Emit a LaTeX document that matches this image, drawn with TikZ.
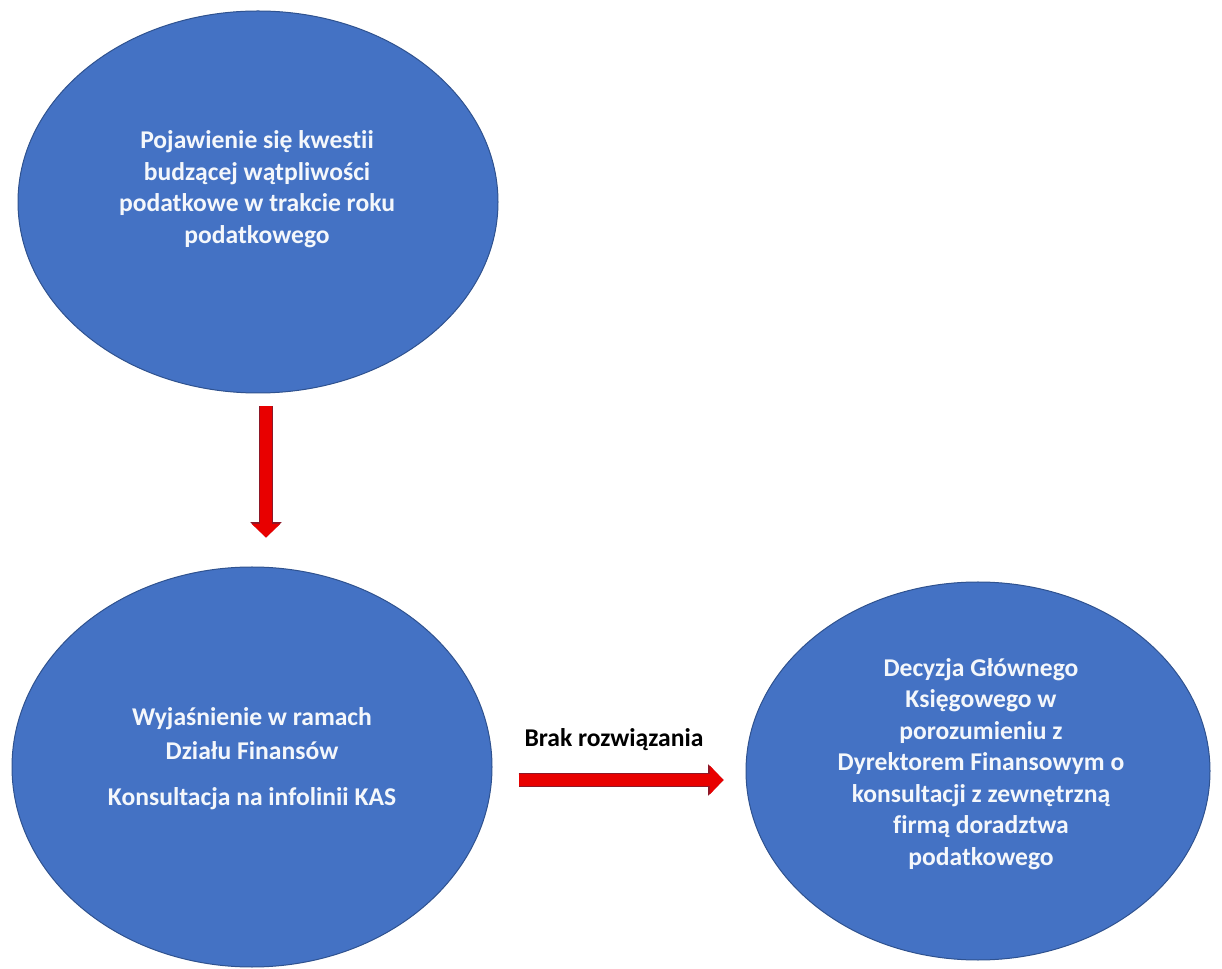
\documentclass[tikz,border=0pt]{standalone}
\usepackage{fontspec}
\setmainfont{Carlito}[Ligatures=NoCommon]
\usetikzlibrary{shapes.geometric,arrows.meta,calc}

\definecolor{ovalblue}{RGB}{68,114,196}
\definecolor{ovaledge}{RGB}{47,82,143}
\definecolor{arrowred}{RGB}{232,0,0}
\definecolor{arrowedge}{RGB}{140,24,40}

\tikzset{
  oval/.style={ellipse, draw=ovaledge, line width=0.75pt, fill=ovalblue, inner sep=0pt},
  ovaltext/.style={text=white!94!ovalblue, font=\bfseries\fontsize{19.2}{23.6}\selectfont, align=center},
  blockarrow/.style={draw=arrowred, line width=9.25pt, -{Triangle[width=21.5pt,length=10.25pt,line width=0pt 0]},
    preaction={draw=arrowedge, line width=11pt, -{Triangle[width=23.5pt,length=11.5pt,line width=0pt 0]}}}
}

\begin{document}
\begin{tikzpicture}[x=0.75pt,y=0.75pt,yscale=-1,xscale=1]
\useasboundingbox (0,0) rectangle (1222,969);

%Ellipses
\node [oval, minimum width=360pt, minimum height=286.5pt] (issue) at (258,202) {};
\node [oval, minimum width=360pt, minimum height=300pt] (explain) at (252,767) {};
\node [oval, minimum width=348pt, minimum height=283.5pt] (decision) at (978,771) {};

% Text Node
\node [ovaltext] (issuetext) at (257,189) {Pojawienie się kwestii\\ budzącej wątpliwości\\ podatkowe w trakcie roku\\ podatkowego};
% Text Node
\node [ovaltext] (explaintext) at (252,759) {Wyjaśnienie w ramach\\[2pt] Działu Finansów\\[11pt] Konsultacja na infolinii KAS};
% Text Node
\node [ovaltext] (decisiontext) at (981,764) {Decyzja Głównego\\ Księgowego w\\ porozumieniu z\\ Dyrektorem Finansowym o\\ konsultacji z zewnętrzną\\ firmą doradztwa\\ podatkowego};
% Text Node
\node [font=\bfseries\fontsize{19.2}{23.6}\selectfont, text=black] (nosolution) at (614,740) {Brak rozwiązania};

%Block Arrows
\draw [blockarrow] ($(issue.south)+(8,13)$) -- ($(explain.north)+(14,-29)$);
\draw [blockarrow] ($(explain.east)+(26,13)$) -- ($(decision.west)+(-22,9)$);

\end{tikzpicture}
\end{document}
